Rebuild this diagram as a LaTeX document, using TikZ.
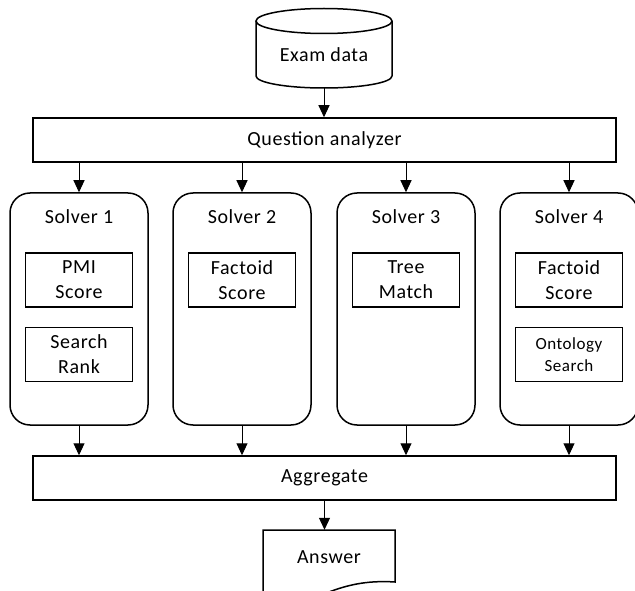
\documentclass[tikz,border=0pt]{standalone}
\usepackage{fontspec}
\setmainfont{Carlito}[LetterSpace=3]
\usepackage{tikz}
\usetikzlibrary{arrows.meta,positioning,calc}

\begin{document}
\begin{tikzpicture}[
        x=1pt, y=-1pt,
        font=\fontsize{20}{25}\selectfont,
        bar/.style={rectangle, draw, line width=1.5pt, minimum width=583pt, minimum height=44pt},
        solver/.style={rectangle, rounded corners=20pt, draw, line width=1.5pt, minimum width=138pt, minimum height=232pt},
        inner/.style={rectangle, draw, line width=1.5pt, minimum width=107pt, minimum height=54pt, align=center, inner sep=0pt},
        arrow/.style={-{Triangle[length=12pt,width=11pt]}, line width=1pt}
    ]
        \useasboundingbox (0,0) rectangle (635,591);

        % data source
        \node[minimum width=136pt, minimum height=67pt] (exam) at (324,54.5) {Exam data};
        \draw[line width=1.5pt] (324,21) ellipse[x radius=68pt, y radius=12.5pt];
        \draw[line width=1.5pt] (256,21) -- (256,76) arc[start angle=180, end angle=360, x radius=68pt, y radius=12pt] -- (392,21);

        \node[bar] (qa) at (324.5,140) {Question analyzer};
        \draw[arrow] (exam.south) -- (qa.north -| exam.south);

        \node[bar] (agg) at (324.5,478) {Aggregate};

        % solvers
        \foreach \i/\x in {1/79,2/242,3/406,4/569} {
            \node[solver] (s\i) at (\x,309) {};
            \node (t\i) at (\x,217) {Solver \i};
            \draw[arrow] (qa.south -| s\i) -- (s\i.north);
            \draw[arrow] (s\i.south) -- (agg.north -| s\i);
        }

        \node[inner] (pmi) at (79,280) {PMI\\Score};
        \node[inner] (rank) at (79,354.5) {Search\\Rank};
        \node[inner] (fact2) at (242,280) {Factoid\\Score};
        \node[inner] (tree) at (406,280) {Tree\\Match};
        \node[inner] (fact4) at (569,280) {Factoid\\Score};
        \node[inner, font=\fontsize{17}{22}\selectfont] (onto) at (569,354.5) {Ontology\\Search};

        % answer document
        \node[minimum width=132pt, minimum height=54pt] (ans) at (329,557) {Answer};
        \draw[line width=1.5pt] (263,610) -- (263,530) -- (395,530) -- (395,582)
            .. controls (365,580) and (345,586) .. (329,592)
            .. controls (305,602) and (285,606) .. (263,602);
        \draw[arrow] (agg.south) -- (agg.south |- ans.north);
    \end{tikzpicture}
\end{document}
